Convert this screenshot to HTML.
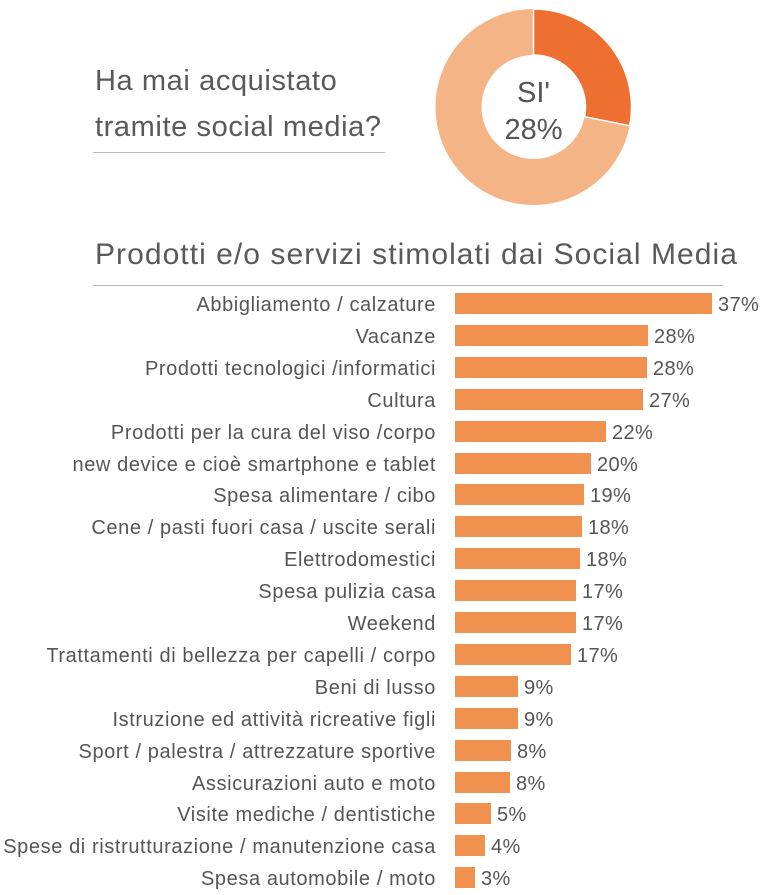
<!DOCTYPE html>
<html><head><meta charset="utf-8"><style>
body{margin:0;width:768px;height:895px;background:#fff;font-family:"Liberation Sans",sans-serif;color:#555;position:relative;overflow:hidden}
.t{position:absolute;white-space:nowrap}
.lab{position:absolute;right:332px;font-size:20px;letter-spacing:0.6px;color:#555;white-space:nowrap;text-align:right}
.bar{position:absolute;left:455px;height:21px;background:#F0914F}
.val{position:absolute;font-size:20px;letter-spacing:0.4px;color:#555}
</style></head><body>
<div class="t" style="left:95px;top:58px;font-size:29px;line-height:46px;letter-spacing:0.6px;color:#595959">Ha mai acquistato<br>tramite social media?</div>
<div style="position:absolute;left:93px;top:152px;width:292px;height:1px;background:#bbb"></div>
<svg style="position:absolute;left:0;top:0" width="768" height="240">
<circle cx="533.5" cy="107" r="75" fill="none" stroke="#F4B486" stroke-width="46"/>
<path d="M533.5 9 A98 98 0 0 1 629.7 125.7 L584.6 116.7 A52 52 0 0 0 533.5 55 Z" fill="#EE7030" stroke="#fff" stroke-width="1.5"/>
<text x="533.5" y="102" text-anchor="middle" font-size="29" fill="#555" font-family="Liberation Sans">SI'</text>
<text x="533.5" y="139" text-anchor="middle" font-size="29" fill="#555" font-family="Liberation Sans">28%</text>
</svg>
<div class="t" style="left:95px;top:238px;font-size:30px;letter-spacing:1.05px;color:#595959">Prodotti e/o servizi stimolati dai Social Media</div>
<div style="position:absolute;left:93px;top:285px;width:630px;height:1px;background:#bbb"></div>
<div id="c"></div>
<script>
var d=[["Abbigliamento / calzature",37],["Vacanze",28],["Prodotti tecnologici /informatici",28],["Cultura",27],["Prodotti per la cura del viso /corpo",22],["new device e cioè smartphone e tablet",20],["Spesa alimentare / cibo",19],["Cene / pasti fuori casa / uscite serali",18],["Elettrodomestici",18],["Spesa pulizia casa",17],["Weekend",17],["Trattamenti di bellezza per capelli / corpo",17],["Beni di lusso",9],["Istruzione ed attività ricreative figli",9],["Sport / palestra / attrezzature sportive",8],["Assicurazioni auto e moto",8],["Visite mediche / dentistiche",5],["Spese di ristrutturazione / manutenzione casa",4],["Spesa automobile / moto",3]];
var w=[257,193,192,188,151,136,129,127,125,121,121,116,63,63,56,55,36,30,20];
var h="";
d.forEach(function(r,i){var y=293+i*31.9;
h+='<div class="lab" style="top:'+(y+1)+'px">'+r[0]+'</div><div class="bar" style="top:'+y+'px;width:'+w[i]+'px"></div><div class="val" style="left:'+(455+w[i]+6)+'px;top:'+(y+1)+'px">'+r[1]+'%</div>';});
document.getElementById("c").innerHTML=h;
</script>
</body></html>
